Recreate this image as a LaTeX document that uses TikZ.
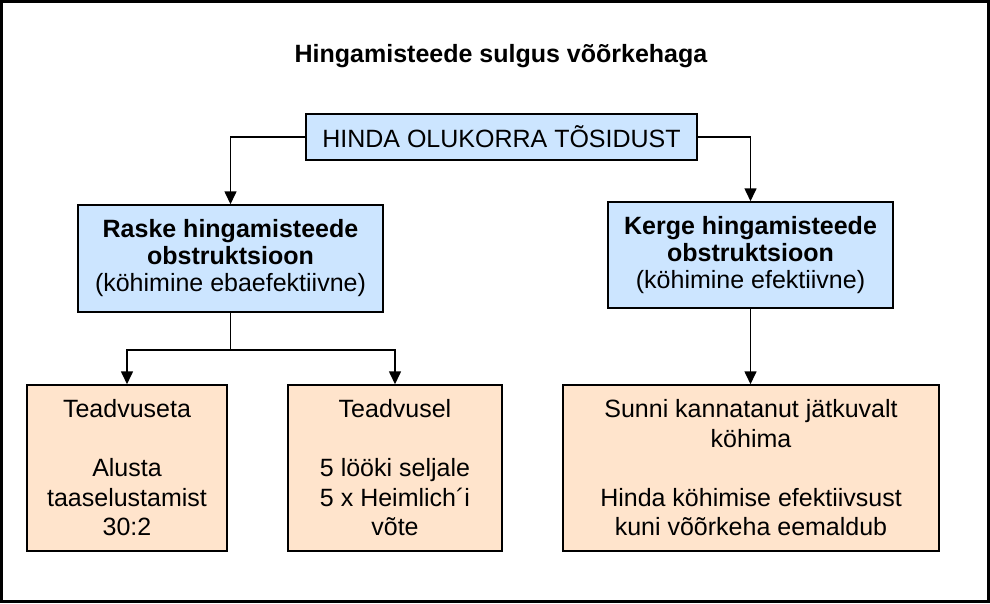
\documentclass[tikz,border=0pt]{standalone}
\usepackage{fontspec}
\setmainfont{Liberation Sans}
\usetikzlibrary{arrows.meta}
\definecolor{boxblue}{RGB}{204,229,255}
\definecolor{boxorange}{RGB}{255,228,204}

\begin{document}
\begin{tikzpicture}[x=1pt,y=-1pt,
  bluebox/.style={draw=black, line width=1.5pt, fill=boxblue, align=center,
    inner sep=0pt, font=\fontsize{25}{27}\selectfont},
  orangebox/.style={draw=black, line width=1.5pt, fill=boxorange, align=center,
    inner sep=0pt, minimum height=166pt, font=\fontsize{25}{29.5}\selectfont},
  arrow/.style={line width=1.6pt, -{Triangle[length=13pt,width=12pt]}},
  line/.style={line width=1.6pt}]
%\draw[help lines] (0,0) grid (990,603);
\useasboundingbox (0,0) rectangle (990,603);
\draw[line width=3pt] (1.5,1.5) rectangle (988.5,601.5);

\node[font=\fontsize{25}{29.5}\selectfont\bfseries] (title) at (501,56)
  {Hingamisteede sulgus võõrkehaga};

\node[bluebox, minimum width=391pt, minimum height=46pt] (hinda) at (501.5,137)
  {HINDA OLUKORRA TÕSIDUST};

\node[bluebox, minimum width=305pt, minimum height=107pt] (raske) at (230.5,258.5)
  {\textbf{Raske hingamisteede}\\\textbf{obstruktsioon}\\(köhimine ebaefektiivne)};
\node[bluebox, minimum width=285pt, minimum height=106pt] (kerge) at (750.5,255)
  {\textbf{Kerge hingamisteede}\\\textbf{obstruktsioon}\\(köhimine efektiivne)};

\node[orangebox, minimum width=200pt] (teadvuseta) at (127,468)
  {Teadvuseta\\[\baselineskip]Alusta\\taaselustamist\\30:2};
\node[orangebox, minimum width=214pt] (teadvusel) at (395,468)
  {Teadvusel\\[\baselineskip]5 lööki seljale\\5 x Heimlich´i\\võte};
\node[orangebox, minimum width=376pt] (sunni) at (751,468)
  {Sunni kannatanut jätkuvalt\\köhima\\[\baselineskip]Hinda köhimise efektiivsust\\kuni võõrkeha eemaldub};

\draw[arrow] (hinda.west) -| (raske.north);
\draw[arrow] (hinda.east) -| (kerge.north);

\draw[line] (raske.south) -- ++(0,37) coordinate (split);
\draw[arrow] (split) -| (teadvuseta.north);
\draw[arrow] (split) -| (teadvusel.north);

\draw[arrow] (kerge.south) -- (kerge.south |- sunni.north);

\end{tikzpicture}
\end{document}
